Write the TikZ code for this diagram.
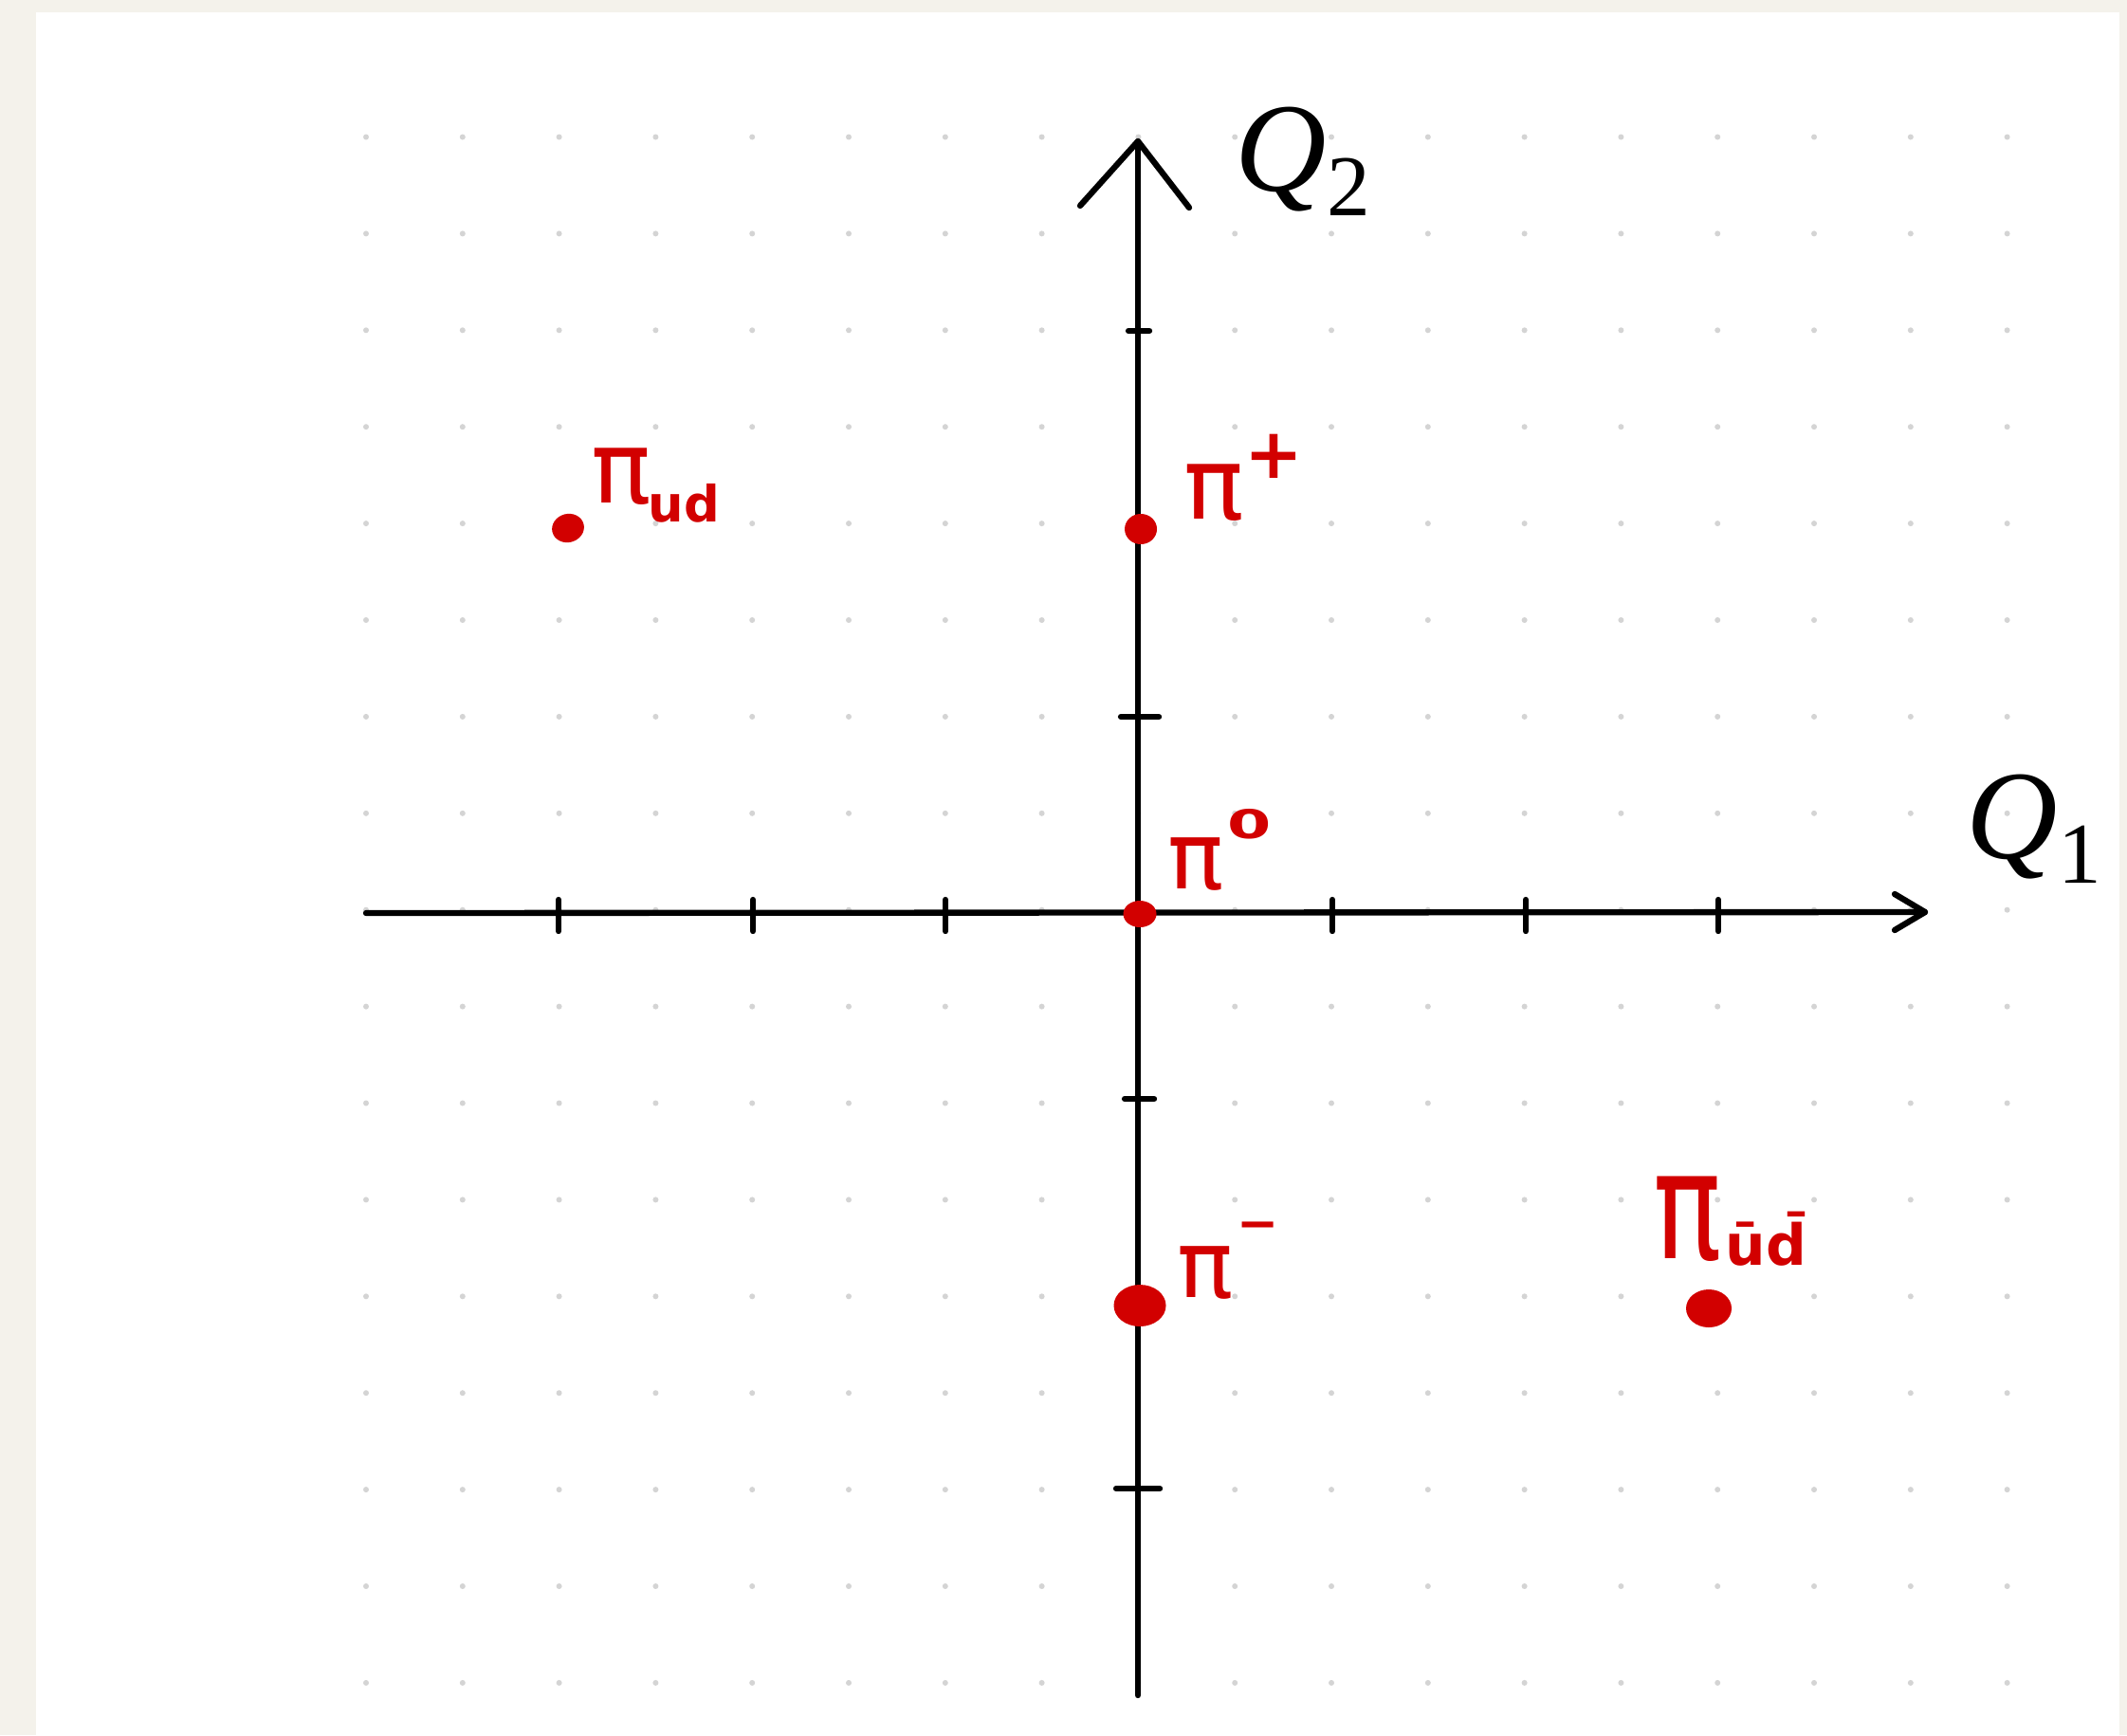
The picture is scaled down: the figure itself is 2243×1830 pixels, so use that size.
\documentclass[tikz,border=0pt]{standalone}
\usepackage{fontspec}
\setmainfont{Liberation Serif}
\newfontfamily\handf{DejaVu Sans}
\usetikzlibrary{shapes.geometric}
\definecolor{paperbg}{RGB}{244,242,235}
\definecolor{dotgray}{RGB}{212,212,212}
\definecolor{pired}{RGB}{210,0,0}
\tikzset{
  axis/.style={line width=1.8pt, line cap=round, line join=round, black},
  reddot/.style={ellipse, fill=pired, draw=none, inner sep=0pt},
  lab/.style={text=pired, font=\handf, inner sep=0pt, anchor=base west},
  qlab/.style={text=black, inner sep=0pt, anchor=base west}
}
\begin{document}
\begin{tikzpicture}[x=0.01cm,y=-0.01cm]
\useasboundingbox (0,0) rectangle (2243,1830);
\fill[paperbg] (0,0) rectangle (2243,1830);
\fill[white] (38,13) rectangle (2235,1830);
% dot grid
\foreach \i in {0,...,17}
  \foreach \j in {0,...,16}
    \fill[dotgray] ({386+101.8*\i},{144.5+101.9*\j}) circle[radius=0.03cm];
% axes
\coordinate (xs) at (386,963);
\coordinate (xe) at (2030,962);
\coordinate (ys) at (1200,1788);
\coordinate (ye) at (1200,149);
\draw[axis] (xs) -- (xe);
\draw[axis] (ys) -- (ye);
\draw[axis] ([shift={(-32,-19)}]xe) -- (xe) -- ([shift={(-32,19)}]xe);
\draw[axis] ([shift={(-61,68)}]ye) -- (ye) -- ([shift={(54,70)}]ye);
% ticks
\foreach \x in {589,794,997,1405,1609,1812}
  \draw[axis] (\x,949) -- (\x,982);
\draw[axis] (1190,349) -- (1212,349);
\draw[axis] (1182,756) -- (1222,756);
\draw[axis] (1186,1159) -- (1217,1159);
\draw[axis] (1177,1570) -- (1223,1570);
% axis labels
\node[qlab] (q2) at (1302,201) {\fontsize{38}{38}\selectfont\textit{Q}\raisebox{-7.4pt}{\fontsize{26}{26}\selectfont 2}};
\node[qlab] (q1) at (2073,905) {\fontsize{38}{38}\selectfont\textit{Q}\raisebox{-7.4pt}{\fontsize{26}{26}\selectfont 1}};
% red points
\node[reddot, minimum width=0.34cm, minimum height=0.30cm, rotate=15] (pud) at (599,557) {};
\node[reddot, minimum width=0.34cm, minimum height=0.32cm] (pp) at (1203,558) {};
\node[reddot, minimum width=0.35cm, minimum height=0.28cm] (p0) at (1202,964) {};
\node[reddot, minimum width=0.55cm, minimum height=0.44cm] (pm) at (1202,1377) {};
\node[reddot, minimum width=0.48cm, minimum height=0.40cm] (pudb) at (1802,1380) {};
% red labels
\node[lab] (lud) at (623,530) {\fontsize{30}{30}\selectfont π\hspace{-1pt}\raisebox{-5.7pt}{\fontsize{15}{15}\selectfont\bfseries ud}};
\node[lab] (lpp) at (1248,547) {\fontsize{30}{30}\selectfont π\raisebox{12pt}{\fontsize{21}{21}\selectfont\bfseries +}};
\node[lab] (lp0) at (1231,937) {\fontsize{28}{28}\selectfont π\hspace{1pt}\raisebox{15pt}{\fontsize{14}{14}\selectfont\bfseries\scalebox{1.35}[0.85]{0}}};
\node[lab] (lpm) at (1241,1368) {\fontsize{28}{28}\selectfont π\hspace{1pt}\raisebox{17pt}{\fontsize{15}{15}\selectfont\bfseries −}};
\node[lab] (lpb) at (1743,1327) {\fontsize{36}{36}\selectfont\scalebox{0.95}[1.25]{π}\hspace{1pt}\raisebox{-2pt}{\fontsize{17}{17}\selectfont\bfseries ūd̄}};
\end{tikzpicture}
\end{document}
